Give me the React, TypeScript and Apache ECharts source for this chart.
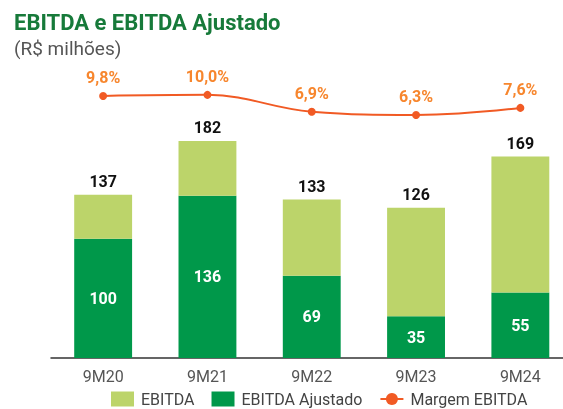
import React, { useEffect, useRef } from "react";
import * as echarts from "echarts";

const categories = ["9M20", "9M21", "9M22", "9M23", "9M24"];
const ebitdaTotal = [137, 182, 133, 126, 169];
const ebitdaAjustado = [100, 136, 69, 35, 55];
const margemEbitda = [9.8, 10.0, 6.9, 6.3, 7.6];

export default function App() {
  const ref = useRef<HTMLDivElement>(null);
  useEffect(() => {
    if (!ref.current) return;
    const chart = echarts.init(ref.current, null, { renderer: "svg" });
    const ebitdaTop = ebitdaTotal.map((t, i) => t - ebitdaAjustado[i]);
    const gridLeft = 51;
    const gridWidth = 521.5;
    chart.setOption({
      animation: false,
      textStyle: { fontFamily: "Roboto" },
      title: [
        {
          text: "EBITDA e EBITDA Ajustado",
          left: 9,
          top: 6,
          textStyle: { fontFamily: "Roboto", fontSize: 22, fontWeight: "bold", color: "#177a3a" },
        },
        {
          text: "(R$ milhões)",
          left: 9,
          top: 34,
          textStyle: { fontFamily: "Roboto", fontSize: 19, fontWeight: "normal", color: "#555555" },
        },
      ],
      legend: {
        top: 391,
        left: 111,
        padding: 0,
        itemWidth: 23,
        itemHeight: 15,
        itemGap: 17,
        textStyle: { fontFamily: "Roboto", fontSize: 16, color: "#444444", padding: [0, 0, 0, 2] },
        data: [
          { name: "EBITDA", icon: "rect" },
          { name: "EBITDA Ajustado", icon: "rect" },
          { name: "Margem EBITDA" },
        ],
      },
      grid: [
        { left: gridLeft, width: gridWidth, top: 119.5, height: 238.5 },
        { left: gridLeft, width: gridWidth, top: 84, height: 38 },
      ],
      xAxis: [
        {
          type: "category",
          gridIndex: 0,
          data: categories,
          axisLine: { lineStyle: { color: "#333333", width: 1.5 } },
          axisTick: { show: false },
          axisLabel: { fontFamily: "Roboto", fontSize: 16, color: "#555555", margin: 10 },
        },
        {
          type: "category",
          gridIndex: 1,
          data: categories,
          show: false,
        },
      ],
      yAxis: [
        { type: "value", gridIndex: 0, min: 0, max: 200, show: false },
        { type: "value", gridIndex: 1, min: 5, max: 12, show: false },
      ],
      series: [
        {
          name: "EBITDA Ajustado",
          type: "bar",
          stack: "e",
          xAxisIndex: 0,
          yAxisIndex: 0,
          barWidth: "55.5%",
          data: ebitdaAjustado,
          itemStyle: { color: "#00984a" },
          label: {
            show: true,
            position: "inside",
            color: "#ffffff",
            fontFamily: "Roboto",
            fontSize: 16,
            fontWeight: "bold",
          },
        },
        {
          name: "EBITDA",
          type: "bar",
          stack: "e",
          xAxisIndex: 0,
          yAxisIndex: 0,
          barWidth: "55.5%",
          data: ebitdaTop,
          itemStyle: { color: "#bcd46a" },
          label: {
            show: true,
            position: "top",
            distance: 5,
            color: "#111111",
            fontFamily: "Roboto",
            fontSize: 16,
            fontWeight: "bold",
            formatter: (p: any) => String(ebitdaTotal[p.dataIndex]),
          },
        },
        {
          name: "Margem EBITDA",
          type: "line",
          xAxisIndex: 1,
          yAxisIndex: 1,
          smooth: 0.4,
          data: margemEbitda,
          symbol: "circle",
          symbolSize: 8,
          lineStyle: { color: "#f15a24", width: 2 },
          itemStyle: { color: "#f15a24" },
          label: {
            show: true,
            position: "top",
            distance: 6,
            color: "#f7862d",
            fontFamily: "Roboto",
            fontSize: 16,
            fontWeight: "bold",
            formatter: (p: any) => p.value.toFixed(1).replace(".", ",") + "%",
          },
        },
      ],
    });
    return () => chart.dispose();
  }, []);
  return (
    <div
      ref={ref}
      style={{ position: "fixed", left: 0, top: 0, width: 580, height: 409 }}
    />
  );
}
